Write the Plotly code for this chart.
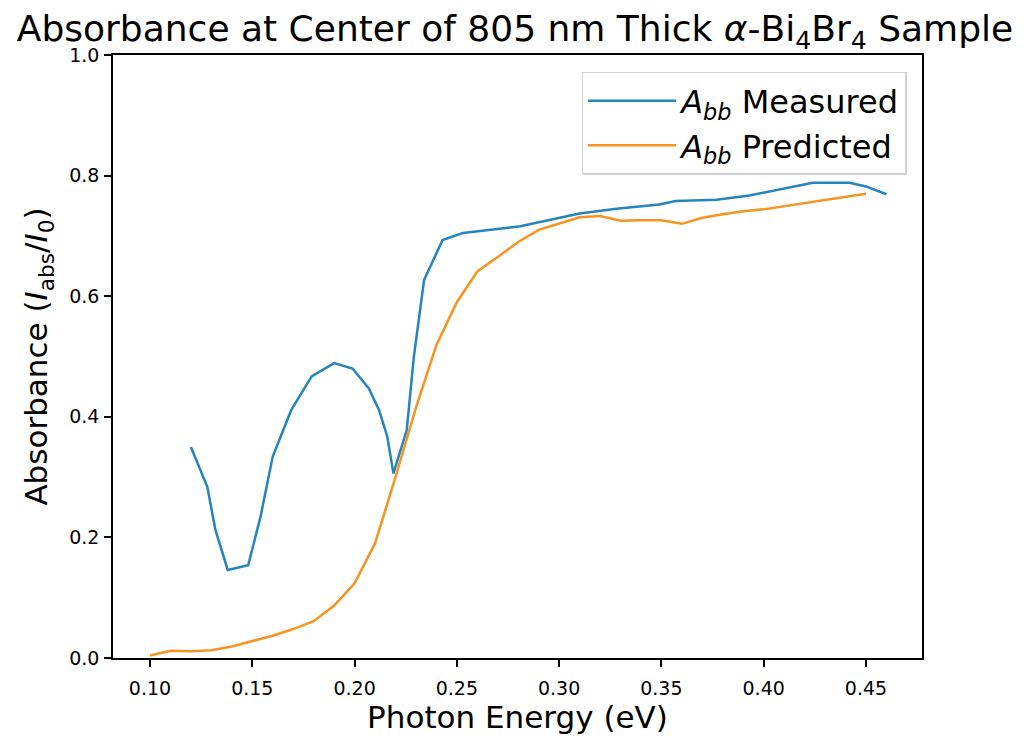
import plotly.graph_objects as go

# Measured absorbance
meas_e = [0.120, 0.128, 0.132, 0.138, 0.148, 0.154, 0.160, 0.169, 0.179, 0.190,
          0.199, 0.207, 0.212, 0.216, 0.219, 0.2255, 0.229, 0.234, 0.243, 0.253,
          0.281, 0.310, 0.328, 0.349, 0.357, 0.377, 0.393, 0.410, 0.424, 0.442,
          0.450, 0.460]
meas_a = [0.350, 0.284, 0.212, 0.146, 0.154, 0.234, 0.334, 0.411, 0.467, 0.489,
          0.480, 0.447, 0.411, 0.367, 0.306, 0.378, 0.500, 0.627, 0.693, 0.705,
          0.716, 0.737, 0.745, 0.752, 0.758, 0.760, 0.767, 0.778, 0.788, 0.788,
          0.782, 0.769]

# Predicted absorbance
pred_e = [0.10, 0.11, 0.12, 0.13, 0.14, 0.15, 0.16, 0.17, 0.18, 0.19,
          0.20, 0.21, 0.22, 0.23, 0.24, 0.25, 0.26, 0.27, 0.28, 0.29,
          0.30, 0.31, 0.32, 0.33, 0.34, 0.35, 0.36, 0.37, 0.38, 0.39,
          0.40, 0.41, 0.42, 0.43, 0.44, 0.45]
pred_a = [0.004, 0.012, 0.011, 0.013, 0.019, 0.028, 0.037, 0.048, 0.061, 0.087,
          0.124, 0.190, 0.300, 0.415, 0.519, 0.590, 0.641, 0.665, 0.690, 0.710,
          0.720, 0.731, 0.733, 0.725, 0.726, 0.726, 0.720, 0.730, 0.736, 0.741,
          0.744, 0.749, 0.755, 0.759, 0.765, 0.770]

x_ticks = [0.10, 0.15, 0.20, 0.25, 0.30, 0.35, 0.40, 0.45]
y_ticks = [0.0, 0.2, 0.4, 0.6, 0.8, 1.0]

FONT = "DejaVu Sans"

fig = go.Figure()
fig.add_trace(go.Scatter(
    x=meas_e, y=meas_a, mode="lines",
    name="<i>A</i><sub><i>bb</i></sub> Measured",
    line=dict(color="#2485be", width=2.5),
))
fig.add_trace(go.Scatter(
    x=pred_e, y=pred_a, mode="lines",
    name="<i>A</i><sub><i>bb</i></sub> Predicted",
    line=dict(color="#f7931e", width=2.5),
))

axis_common = dict(
    showgrid=False, zeroline=False, showline=True, linecolor="black", linewidth=1.5,
    mirror=True, ticks="outside", ticklen=7, tickwidth=1.5, tickcolor="black",
    tickfont=dict(family=FONT, size=19, color="black"),
)

fig.update_layout(
    width=1023, height=732,
    margin=dict(l=105, r=109, t=47, b=82),
    paper_bgcolor="white", plot_bgcolor="white",
    font=dict(family=FONT, color="black"),
    title=dict(
        text="Absorbance at Center of 805 nm Thick <i>α</i>-Bi<sub>4</sub>Br<sub>4</sub> Sample",
        x=0.4956, xanchor="center", y=0.972, yanchor="middle",
        font=dict(family=FONT, size=36, color="black"),
    ),
    xaxis=dict(
        range=[0.0819, 0.4774], tickvals=x_ticks,
        ticktext=[f"{v:.2f}" for v in x_ticks],
        ticklabelstandoff=5,
        title=dict(text="Photon Energy (eV)", font=dict(family=FONT, size=31), standoff=6),
        **axis_common,
    ),
    yaxis=dict(
        range=[0.0, 1.0], tickvals=y_ticks,
        ticktext=[f"{v:.1f}" for v in y_ticks],
        ticklabelstandoff=1,
        title=dict(text="Absorbance (<i>I</i><sub>abs</sub>/<i>I</i><sub>0</sub>)",
                   font=dict(family=FONT, size=31), standoff=12),
        **axis_common,
    ),
    legend=dict(
        x=0.981, y=0.972, xanchor="right", yanchor="top",
        bgcolor="rgba(255,255,255,0.8)", bordercolor="#d0d0d0", borderwidth=1.5,
        font=dict(family=FONT, size=32, color="black"),
        itemwidth=88,
    ),
    showlegend=True,
)

fig.write_html("out.html")
